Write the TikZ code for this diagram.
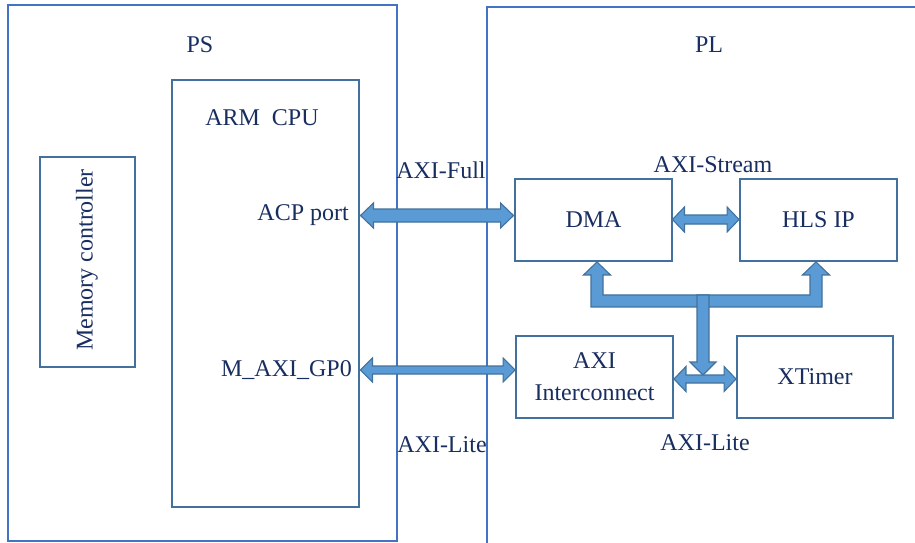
\documentclass[tikz,border=0pt]{standalone}
\usepackage{fontspec}
\setmainfont{Liberation Serif}
\usetikzlibrary{calc}
\definecolor{outerblue}{RGB}{68,114,196}
\definecolor{boxline}{RGB}{65,113,156}
\definecolor{arrowfill}{RGB}{91,155,213}
\definecolor{txt}{RGB}{24,46,96}
\tikzset{
  outerbox/.style={draw=outerblue, line width=1.7pt, rectangle, inner sep=0pt},
  innerbox/.style={draw=boxline, line width=1.9pt, rectangle, inner sep=0pt, text=txt},
  lbl/.style={text=txt, inner sep=0pt},
  fatarrow/.style={fill=arrowfill, draw=boxline, line width=1.1pt, line join=miter},
}
\newcommand\hdarrow[5]{%
  \path[fatarrow] let \p1=#1, \p2=#2 in
   (\x1,\y1) -- (\x1+#5,\y1+#4) -- (\x1+#5,\y1+#3) -- (\x2-#5,\y1+#3) -- (\x2-#5,\y1+#4)
   -- (\x2,\y1) -- (\x2-#5,\y1-#4) -- (\x2-#5,\y1-#3) -- (\x1+#5,\y1-#3) -- (\x1+#5,\y1-#4) -- cycle;}
\begin{document}
\begin{tikzpicture}[x=1pt,y=-1pt,font=\fontsize{24}{32}\selectfont]
\useasboundingbox (0,0) rectangle (915,542);
\fill[white] (0,0) rectangle (915,542);
\clip (0,0) rectangle (915,542);
% group boxes
\node[outerbox, minimum width=389pt, minimum height=536pt] (ps) at (202.5,273) {};
\node[outerbox, minimum width=443pt, minimum height=553pt] (pl) at (708.5,283.5) {};
\node[lbl] (pslbl) at (200,45) {PS};
\node[lbl] (pllbl) at (709,45) {PL};
% PS side
\node[innerbox, minimum width=187pt, minimum height=427pt] (cpu) at (265.5,293.5) {};
\node[lbl] (cpulbl) at (262,118) {ARM~~CPU};
\node[innerbox, minimum width=95pt, minimum height=210pt] (mem) at (87.5,262) {};
\node[lbl, rotate=90] (memlbl) at (87,260) {Memory controller};
\node[lbl, anchor=east] (acp) at (349,215.5) {ACP port};
\node[lbl, anchor=east] (gp0) at (352,370) {M\_AXI\_GP0};
% PL side
\node[innerbox, minimum width=157pt, minimum height=82pt] (dma) at (593.5,220) {DMA};
\node[innerbox, minimum width=157pt, minimum height=82pt] (hls) at (818.5,220) {HLS IP};
\node[innerbox, minimum width=157pt, minimum height=82pt, align=center] (axi) at (594.5,377) {AXI\\Interconnect};
\node[innerbox, minimum width=156pt, minimum height=82pt] (xt) at (815,377) {XTimer};
% bus labels
\node[lbl] (full) at (441,170) {AXI-Full};
\node[lbl] (lite1) at (442,445) {AXI-Lite};
\node[lbl] (stream) at (713,165) {AXI-Stream};
\node[lbl] (lite2) at (705,443) {AXI-Lite};
% connectors
\hdarrow{($(cpu.east |- acp)+(0.5,0)$)}{($(dma.west |- acp)+(-0.5,0)$)}{6.5pt}{12.5pt}{13pt}
\hdarrow{($(cpu.east |- gp0)+(0.5,0)$)}{(axi.west |- gp0)}{4pt}{12pt}{12pt}
\hdarrow{($(dma.east)+(-0.5,-0.5)$)}{($(hls.west)+(0,-0.5)$)}{4.5pt}{12.5pt}{12pt}
\coordinate (stemtip) at ($(axi.east)!0.5!(xt.west)+(-2,-2)$);
% tree from the interconnect bus to DMA and HLS IP
\path[fatarrow] let \p1=($(dma.south)+(3.5,0)$), \p2=($(hls.south)+(-2.5,0)$) in
  (\x1,\y1) -- (\x1+13.5pt,\y1-13pt) -- (\x1+6pt,\y1-13pt) -- (\x1+6pt,\y1-33pt)
  -- (\x2-6pt,\y1-33pt) -- (\x2-6pt,\y1-13pt) -- (\x2-13.5pt,\y1-13pt) -- (\x2,\y1)
  -- (\x2+13.5pt,\y1-13pt) -- (\x2+6pt,\y1-13pt) -- (\x2+6pt,\y1-45pt)
  -- (\x1-6pt,\y1-45pt) -- (\x1-6pt,\y1-13pt) -- (\x1-13.5pt,\y1-13pt) -- cycle;
\path[fatarrow] let \p1=($(dma.south)+(3.5,0)$), \p3=(stemtip) in
  (\x3-6pt,\y1-33pt) -- (\x3+6pt,\y1-33pt) -- (\x3+6pt,\y3+13pt) -- (\x3+13pt,\y3+13pt)
  -- (\x3,\y3) -- (\x3-13pt,\y3+13pt) -- (\x3-6pt,\y3+13pt) -- cycle;
\hdarrow{($(axi.east)+(0,2)$)}{($(xt.west)+(0,2)$)}{4pt}{12.5pt}{12pt}
\end{tikzpicture}
\end{document}
